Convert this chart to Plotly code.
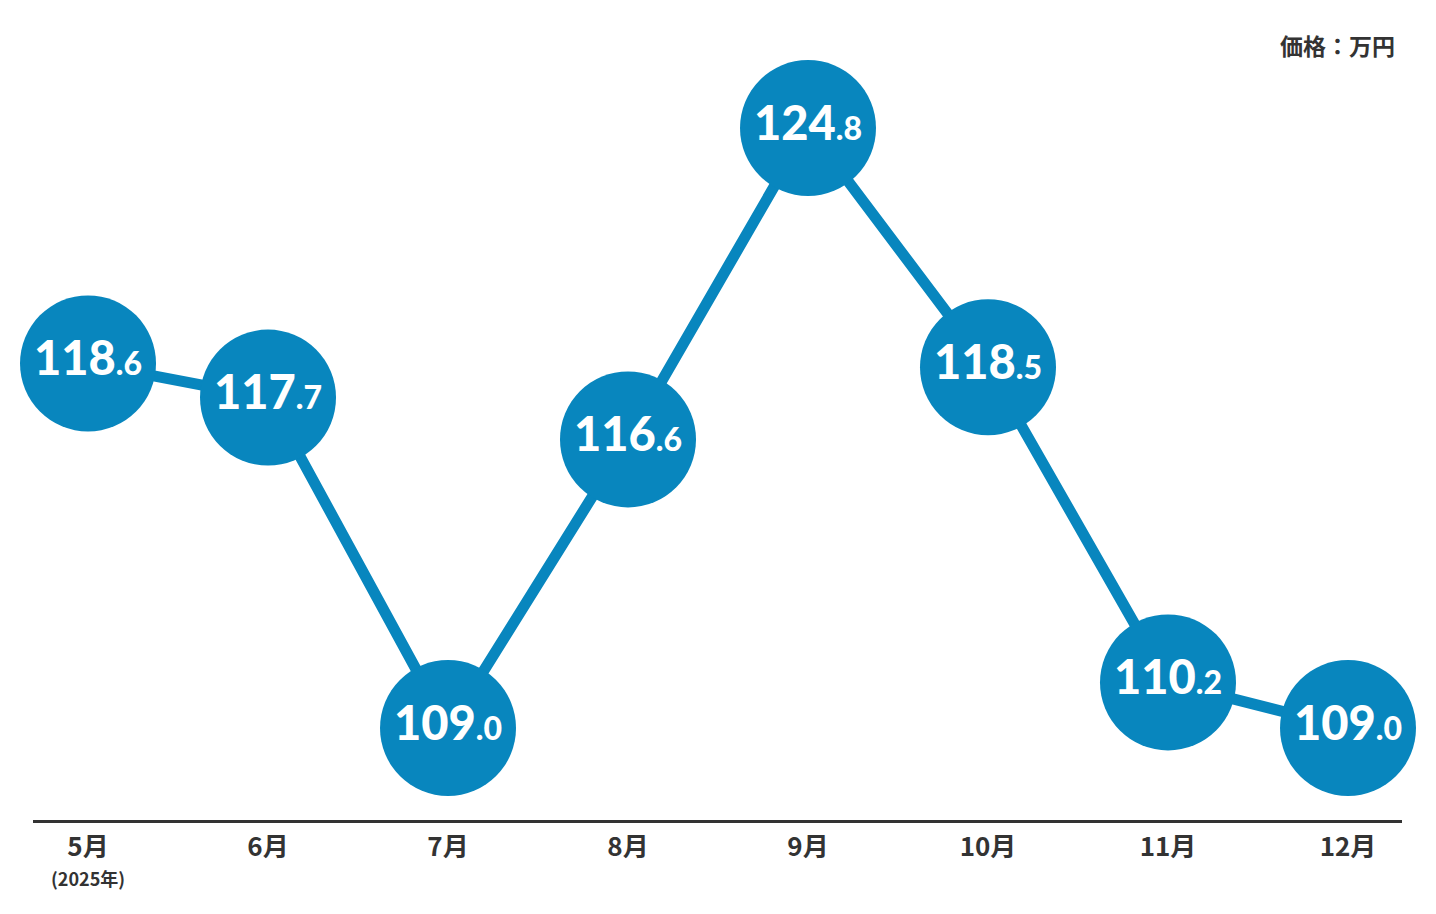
import plotly.graph_objects as go

months = ["5月", "6月", "7月", "8月", "9月", "10月", "11月", "12月"]
prices = [118.6, 117.7, 109.0, 116.6, 124.8, 118.5, 110.2, 109.0]
first_note = "(2025年)"
unit_label = "価格：万円"

blue = "#0886BE"
dark = "#333333"

x = list(range(len(months)))

# whole part big, decimal part small
labels = []
for p in prices:
    whole, dec = f"{p:.1f}".split(".")
    labels.append(f"{whole}<span style='font-size:32px'>.{dec}</span>")

fig = go.Figure()
fig.add_trace(go.Scatter(
    x=x, y=prices,
    mode="lines+markers+text",
    line=dict(color=blue, width=11),
    marker=dict(size=136, color=blue, line=dict(width=0)),
    text=labels,
    textposition="middle center",
    textfont=dict(family="Lato", size=47, color="white", weight=900),
    hoverinfo="skip",
    cliponaxis=False,
))

# page body has an 8px margin, so the figure is 8px smaller than the window
fig.update_layout(
    width=1428, height=906,
    margin=dict(l=25, r=34, t=12, b=94),
    plot_bgcolor="white", paper_bgcolor="white",
    showlegend=False,
    xaxis=dict(
        range=[-0.3056, 7.3], tickvals=x, ticktext=months,
        showgrid=False, zeroline=False,
        showline=True, linecolor=dark, linewidth=3,
        ticks="", ticklen=0, ticklabelstandoff=2,
        tickfont=dict(family="Noto Sans CJK JP", size=26, color=dark, weight="bold"),
    ),
    yaxis=dict(range=[106.577, 127.644], visible=False, showgrid=False, zeroline=False),
    annotations=[
        dict(x=0, y=0, xref="x", yref="paper", text=first_note, showarrow=False,
             font=dict(family="Noto Sans CJK JP", size=18, color=dark, weight="bold"),
             yanchor="middle", yshift=-58),
        dict(x=1, y=1, xref="paper", yref="paper", text=unit_label, showarrow=False,
             font=dict(family="Noto Sans CJK JP", size=23, color=dark, weight="bold"),
             xanchor="right", yanchor="middle", xshift=-5, yshift=-25),
    ],
)

fig.write_html("out.html")
